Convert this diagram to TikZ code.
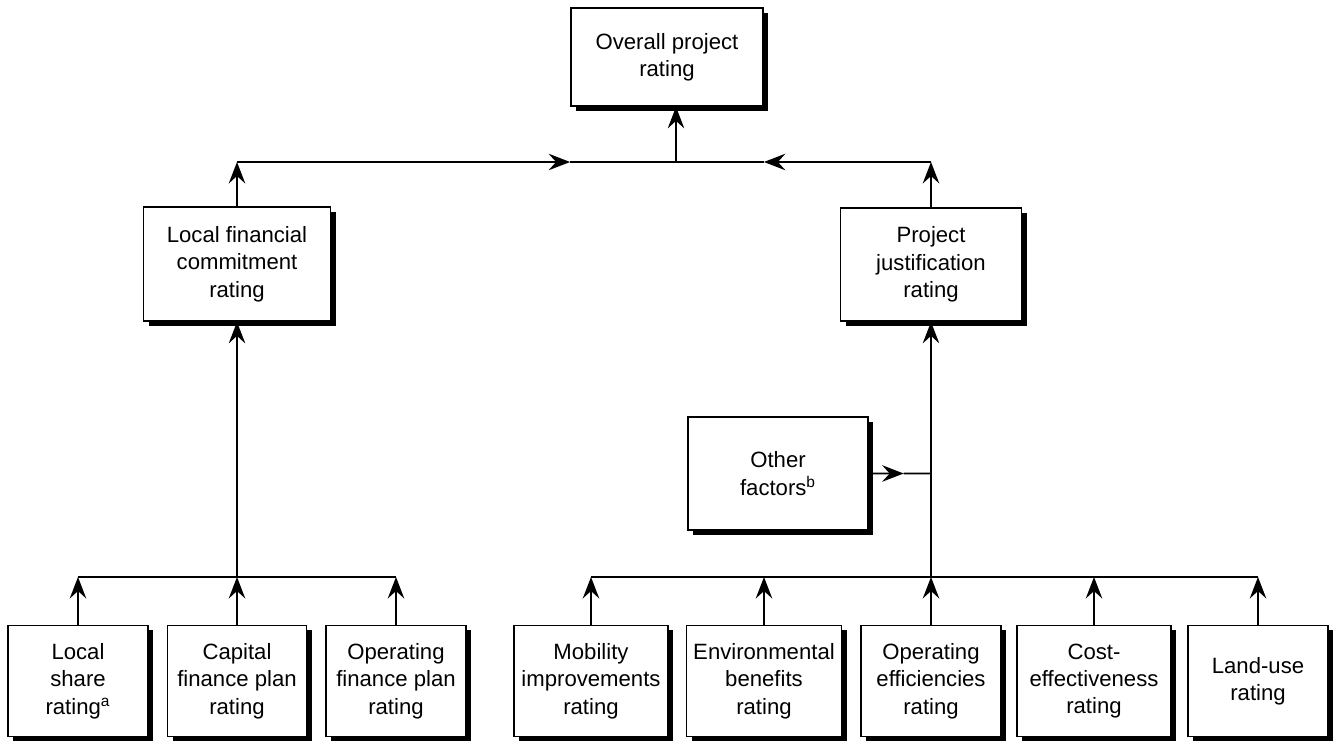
\documentclass[tikz,border=0pt]{standalone}
\usepackage{fontspec}
\setmainfont{Liberation Sans}
\usetikzlibrary{arrows.meta,shadows,calc}

\begin{document}
\begin{tikzpicture}[x=0.2mm,y=-0.2mm,
    >={Stealth[length=4.3mm,width=3.3mm,inset=1.5mm]},
    line width=1pt,
    rating/.style={draw,fill=white,align=center,inner sep=0pt,
      font=\fontsize{12.6}{15.6}\selectfont,
      drop shadow={shadow xshift=1mm,shadow yshift=-1mm,fill=black,opacity=1}},
    lowbox/.style={rating,minimum height=22.2mm}]
  \useasboundingbox (0,0) rectangle (1335,742);

  % Top level
  \node[rating,minimum width=38.4mm,minimum height=19.6mm] (overall) at (667,57) {Overall project\\rating};

  % Second level
  \node[rating,minimum width=37.4mm,minimum height=22.8mm] (local) at (237,264) {Local financial\\commitment\\rating};
  \node[rating,minimum width=36.2mm,minimum height=22.6mm] (justif) at (931,264.5) {Project\\justification\\rating};
  \node[rating,minimum width=36mm,minimum height=22.6mm] (other) at (778,473.5) {Other\\factors\textsuperscript{b}};

  % Bottom level
  \node[lowbox,minimum width=28mm] (share) at (78,681) {Local\\share\\rating\textsuperscript{a}};
  \node[lowbox,minimum width=27.8mm] (capital) at (237,681) {Capital\\finance plan\\rating};
  \node[lowbox,minimum width=28mm] (operfin) at (396,681) {Operating\\finance plan\\rating};
  \node[lowbox,minimum width=30.8mm] (mobility) at (591,681) {Mobility\\improvements\\rating};
  \node[lowbox,minimum width=31mm] (environ) at (764,681) {Environmental\\benefits\\rating};
  \node[lowbox,minimum width=28mm] (efficiency) at (931,681) {Operating\\efficiencies\\rating};
  \node[lowbox,minimum width=30.8mm] (cost) at (1094,681) {Cost-\\effectiveness\\rating};
  \node[lowbox,minimum width=28mm] (landuse) at (1258,681) {Land-use\\rating};

  % Top bar
  \coordinate (top) at (676,162);
  \draw[->] (local.north) -- (local.north |- top);
  \draw[->] (justif.north) -- (justif.north |- top);
  \draw[->] (local.north |- top) -- (overall.south west |- top);
  \draw (overall.south west |- top) -- (top);
  \draw[->] (justif.north |- top) -- (overall.south east |- top);
  \draw (overall.south east |- top) -- (top);
  \draw[->] (top) -- (top |- overall.south);

  % Left bar
  \coordinate (lbar) at (237,577);
  \draw (share.north |- lbar) -- (operfin.north |- lbar);
  \foreach \n in {share,capital,operfin}
    \draw[->] (\n.north) -- (\n.north |- lbar);
  \draw[->] (lbar) -- (local.south);

  % Right bar
  \coordinate (rbar) at (931,577);
  \draw (mobility.north |- rbar) -- (landuse.north |- rbar);
  \foreach \n in {mobility,environ,efficiency,cost,landuse}
    \draw[->] (\n.north) -- (\n.north |- rbar);
  \draw[->] (rbar) -- (justif.south);

  % Other factors
  \coordinate (ojoin) at (justif.south |- other.east);
  \coordinate (omid) at ($(other.east)!0.56!(ojoin)$);
  \draw[->] (other.east) -- (omid);
  \draw (omid) -- (ojoin);
\end{tikzpicture}
\end{document}
